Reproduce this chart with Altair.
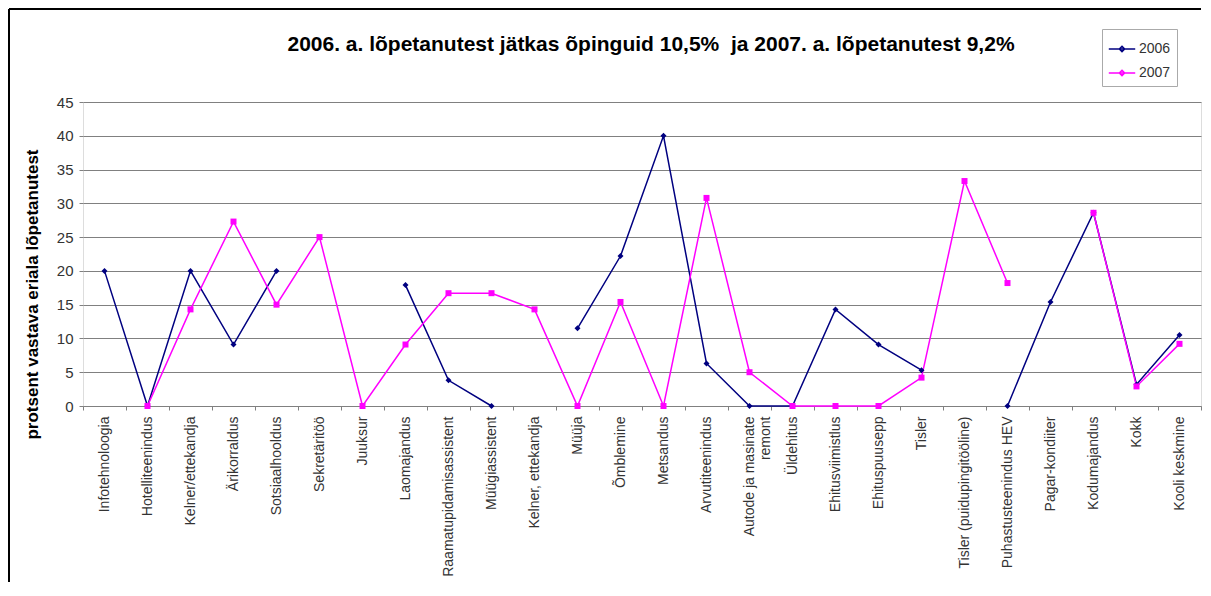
import altair as alt
import pandas as pd

categories = [
    "Infotehnoloogia", "Hotelliteenindus", "Kelner/ettekandja", "Ärikorraldus",
    "Sotsiaalhooldus", "Sekretäritöö", "Juuksur", "Laomajandus",
    "Raamatupidamisassistent", "Müügiassistent", "Kelner, ettekandja", "Müüja",
    "Õmblemine", "Metsandus", "Arvutiteenindus", "Autode ja masinate remont",
    "Üldehitus", "Ehitusviimistlus", "Ehituspuusepp", "Tisler",
    "Tisler (puidupingitööline)", "Puhastusteenindus HEV", "Pagar-kondiiter",
    "Kodumajandus", "Kokk", "Kooli keskmine",
]
v2006 = [20, 0, 20, 9.1, 20, None, None, 17.9, 3.8, 0, None, 11.5, 22.2, 40,
         6.3, 0, 0, 14.3, 9.1, 5.3, None, 0, 15.4, 28.6, 3.2, 10.5]
v2007 = [None, 0, 14.3, 27.3, 15, 25, 0, 9.1, 16.7, 16.7, 14.3, 0, 15.4, 0,
         30.8, 5, 0, 0, 0, 4.2, 33.3, 18.2, None, 28.6, 2.9, 9.2]
series_names = ["2006", "2007"]
series_colors = ["#000080", "#FF00FF"]
series_shapes = ["diamond", "square"]

rows = []
for name, vals in zip(series_names, [v2006, v2007]):
    seg = 0
    for cat, v in zip(categories, vals):
        if v is None:
            seg += 1
            continue
        rows.append({"cat": cat, "value": v, "series": name, "seg": f"{name}-{seg}"})
df = pd.DataFrame(rows)

FONT = "Liberation Sans"

x_enc = alt.X(
    "cat:N", sort=categories,
    scale=alt.Scale(paddingInner=0, paddingOuter=0),
    axis=alt.Axis(
        title=None, labelAngle=270, labelFontSize=14, labelFont=FONT,
        labelColor="#333333", tickBand="extent", tickSize=4, tickColor="#808080",
        domainColor="#808080", labelPadding=6, labelLimit=300,
        labelExpr="datum.label == 'Autode ja masinate remont' ? ['Autode ja masinate', 'remont'] : datum.label",
    ),
)
y_enc = alt.Y(
    "value:Q",
    scale=alt.Scale(domain=[0, 45], nice=False),
    axis=alt.Axis(
        values=list(range(0, 50, 5)), title="protsent vastava eriala lõpetanutest",
        titleFontSize=17, titleFont=FONT, titleFontWeight="bold", titleColor="black",
        titleAngle=270, titleX=-51, titleY=192, titleAlign="center", titleBaseline="middle",
        labelFontSize=15, labelFont=FONT, labelColor="#333333", gridColor="#808080",
        gridWidth=1, domain=False, tickSize=4, tickColor="#808080", labelPadding=6,
    ),
)
color_scale = alt.Scale(domain=series_names, range=series_colors)

lines = alt.Chart(df).mark_line(strokeWidth=1.5).encode(
    x=x_enc, y=y_enc,
    color=alt.Color(
        "series:N", scale=color_scale,
        legend=alt.Legend(
            title=None, orient="none", legendX=1019, legendY=-73,
            symbolType="M-1,0H1M0,-0.2L0.2,0L0,0.2L-0.2,0Z", symbolSize=700,
            symbolStrokeWidth=1.5, labelFontSize=14, labelFont=FONT,
            labelColor="#333333", strokeColor="#aaaaaa", fillColor="white",
            padding=6, rowPadding=3, labelOffset=3,
        ),
    ),
    detail="seg:N",
)

point_layers = []
for name, col, shp in zip(series_names, series_colors, series_shapes):
    point_layers.append(
        alt.Chart(df).transform_filter(alt.datum.series == name)
        .mark_point(filled=True, size=36, opacity=1, color=col, shape=shp)
        .encode(x=x_enc, y=y_enc)
    )

frame_data = pd.DataFrame({"k": [0]})
left_line = alt.Chart(frame_data).mark_rule(color="black", strokeWidth=2).encode(
    x=alt.value(-74), y=alt.value(-93), y2=alt.value(480)
)
top_line = alt.Chart(frame_data).mark_rule(color="black", strokeWidth=2).encode(
    x=alt.value(-74), x2=alt.value(1118), y=alt.value(-93)
)

chart = alt.layer(lines, *point_layers, left_line, top_line).properties(
    width=1118, height=304,
    padding={"left": 0, "top": 0, "right": 0, "bottom": 0},
    title=alt.Title(
        "2006. a. lõpetanutest jätkas õpinguid 10,5%\u00a0 ja 2007. a. lõpetanutest 9,2%",
        fontSize=21, font=FONT, fontWeight="bold", color="black",
        anchor="middle", offset=-47, dx=9,
    ),
).configure_view(fill="#C0C0C0", stroke="#808080").configure(background="white")

chart.save("out.html", embed_options={"renderer": "svg", "actions": False})
